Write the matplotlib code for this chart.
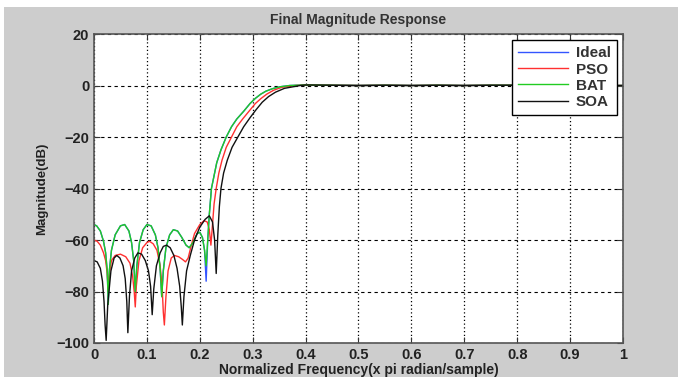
import matplotlib
matplotlib.use("Agg")
import matplotlib.pyplot as plt
from matplotlib.patches import Rectangle

plt.rcParams['font.family'] = ['Liberation Sans', 'DejaVu Sans']

# 資料 (freq x pi rad/sample, dB)
pass_f = [0.40, 0.45, 0.50, 0.55, 0.60, 0.65, 0.70, 0.75, 0.80, 0.85, 0.90, 0.95, 1.00]
pass_db = [0.2, 0.1, 0.0, 0.1, 0.0, 0.1, 0.0, 0.1, 0.1, 0.0, 0.1, 0.0, 0.0]

bat_f = [0, 0.005, 0.012, 0.018, 0.022, 0.025, 0.027, 0.029, 0.033, 0.04, 0.05, 0.058,
         0.066, 0.071, 0.075, 0.078, 0.081, 0.086, 0.093, 0.1, 0.108, 0.116, 0.121,
         0.125, 0.128, 0.131, 0.136, 0.143, 0.15, 0.158, 0.166, 0.174, 0.18, 0.187,
         0.195, 0.2, 0.205, 0.209, 0.212, 0.215, 0.218, 0.222, 0.227, 0.232, 0.24, 0.25,
         0.26, 0.27, 0.283, 0.295, 0.305, 0.315, 0.325, 0.338, 0.352, 0.37]
bat_db = [-54, -54.5, -56.5, -60.5, -65, -72, -85, -72, -64, -58, -54.5, -54,
          -56.5, -61, -68, -80, -70, -61, -56, -54, -54.5, -58, -63,
          -71, -82, -72, -63, -58, -56, -56.5, -59, -62, -63, -61,
          -57.5, -57, -59, -64, -70, -60, -50, -40, -35, -30, -25, -20,
          -16, -13, -10, -7, -5, -3.4, -2.2, -1.2, -0.5, 0]

ideal_f = list(bat_f)
ideal_db = list(bat_db)
ideal_db[bat_f.index(0.212)] = -76

pso_f = [0, 0.006, 0.012, 0.018, 0.022, 0.025, 0.027, 0.029, 0.033, 0.04, 0.05, 0.06,
         0.068, 0.073, 0.076, 0.078, 0.08, 0.085, 0.092, 0.1, 0.105, 0.112, 0.119,
         0.125, 0.129, 0.131, 0.133, 0.136, 0.14, 0.146, 0.152, 0.16, 0.167, 0.173,
         0.178, 0.184, 0.19, 0.2, 0.208, 0.214, 0.218, 0.221, 0.224, 0.227, 0.231,
         0.236, 0.242, 0.25, 0.26, 0.27, 0.281, 0.293, 0.305, 0.316, 0.327, 0.34,
         0.355, 0.38]
pso_db = [-60, -60.5, -62, -65, -68, -73, -80, -73, -68, -66, -65.5, -66.5,
          -69, -74, -80, -86, -78, -68, -63, -61, -60.5, -61.5, -64,
          -70, -79, -88, -93, -82, -72, -67, -66, -66.5, -67.5, -68.5,
          -67, -62, -57.5, -54, -52.5, -53, -56, -62, -54, -46, -40,
          -34, -29, -24, -20, -16, -13, -10, -7, -5, -3.3, -1.8,
          -0.7, 0]

soa_f = [0, 0.006, 0.012, 0.016, 0.019, 0.021, 0.023, 0.026, 0.032, 0.038, 0.043, 0.049,
         0.055, 0.059, 0.062, 0.064, 0.067, 0.071, 0.077, 0.083, 0.09, 0.097, 0.103,
         0.107, 0.11, 0.113, 0.118, 0.125, 0.131, 0.137, 0.144, 0.151, 0.157, 0.162,
         0.165, 0.167, 0.17, 0.175, 0.182, 0.19, 0.2, 0.21, 0.218, 0.224, 0.228, 0.231,
         0.234, 0.237, 0.24, 0.245, 0.252, 0.261, 0.272, 0.283, 0.295, 0.306, 0.318,
         0.33, 0.343, 0.36, 0.39]
soa_db = [-68, -68.5, -71, -76, -84, -93, -99, -85, -72, -67, -66, -67,
          -70, -75, -84, -96, -82, -72, -67, -65, -65.5, -68, -72,
          -78, -89, -79, -70, -65, -62.5, -62, -63, -66, -71, -78,
          -86, -93, -82, -72, -66, -60, -55, -52, -50.6, -53, -60, -73,
          -58, -47, -40, -34, -29, -24, -20, -16, -12.5, -9.5, -6.5,
          -4.3, -2.6, -1.1, 0]

freq_ticks = [0, 0.1, 0.2, 0.3, 0.4, 0.5, 0.6, 0.7, 0.8, 0.9, 1]
freq_labels = ['0', '0.1', '0.2', '0.3', '0.4', '0.5', '0.6', '0.7', '0.8', '0.9', '1']
mag_ticks = [-100, -80, -60, -40, -20, 0, 20]

fig = plt.figure(figsize=(6.78, 3.77), dpi=100, facecolor='#cdcdcd')
# 白邊 (原圖裁切留下的)
fig.patches.append(Rectangle((0, 1 - 7 / 377), 1, 7 / 377, transform=fig.transFigure,
                             facecolor='white', edgecolor='none', zorder=-1))
fig.patches.append(Rectangle((0, 0), 4 / 678, 1, transform=fig.transFigure,
                             facecolor='white', edgecolor='none', zorder=-1))

ax = fig.add_axes([94 / 678, 1 - 343 / 377, 529 / 678, 309 / 377])
ax.set_facecolor('white')

ax.plot(ideal_f + pass_f, ideal_db + pass_db, color='#3355ff', lw=1.0, label='Ideal')
ax.plot(pso_f + pass_f, pso_db + pass_db, color='#ff3030', lw=1.0, label='PSO')
ax.plot(bat_f + pass_f, bat_db + pass_db, color='#22cc22', lw=1.0, label='BAT')
ax.plot(soa_f + pass_f, soa_db + pass_db, color='#111111', lw=1.0, label='SOA')

ax.set_xlim(0, 1)
ax.set_ylim(-100, 20)
ax.set_xticks(freq_ticks)
ax.set_xticklabels(freq_labels)
ax.set_yticks(mag_ticks)
ax.tick_params(direction='in', top=True, right=True, length=4, labelsize=10.5, colors='#333333')
for t in ax.get_xticklabels() + ax.get_yticklabels():
    t.set_fontweight('bold')
    t.set_color('#222222')
for s in ax.spines.values():
    s.set_color('#555555')
    s.set_linewidth(1.2)

# 垂直格線用點, 水平格線用虛線
ax.xaxis.grid(True, color='black', linestyle=(0, (1, 2)), linewidth=0.9)
ax.yaxis.grid(True, color='black', linestyle=(0, (3, 3)), linewidth=0.8)

ax.set_title('Final Magnitude Response', fontsize=10, fontweight='bold', color='#333333', pad=7)
ax.set_xlabel('Normalized Frequency(x pi radian/sample)', fontsize=10, fontweight='bold',
              color='#222222', labelpad=1)
ax.set_ylabel('Magnitude(dB)', fontsize=9.5, fontweight='bold', color='#222222', labelpad=6)

leg = ax.legend(loc='upper right', prop={'size': 11, 'weight': 'bold'}, handlelength=3.3,
                handletextpad=0.5, fancybox=False, framealpha=1, edgecolor='black',
                borderaxespad=0.4, labelspacing=0.15)
leg.get_frame().set_linewidth(1.0)
for t in leg.get_texts():
    t.set_color('#333333')

fig.savefig('out.png', dpi=100, facecolor=fig.get_facecolor())
